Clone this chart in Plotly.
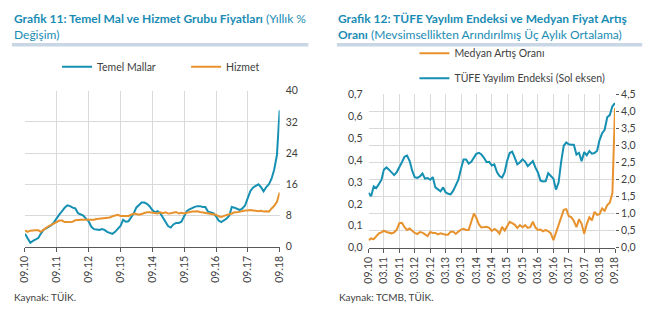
import pandas as pd
import plotly.graph_objects as go

# ---- data -------------------------------------------------------------
months = pd.date_range("2010-09-01", "2018-09-01", freq="MS")

temel_mallar = [
    3.3, 2.0, 1.0, 1.5, 1.9, 2.2, 3.3, 4.3, 4.7, 5.1, 5.5, 6.3,
    7.5, 8.3, 9.1, 10.0, 10.6, 10.4, 10.0, 9.8, 8.6, 8.2, 8.0, 7.2,
    6.5, 5.1, 4.5, 4.4, 4.3, 4.5, 4.3, 3.8, 3.5, 3.3, 3.8, 4.5,
    5.3, 6.9, 6.4, 6.5, 7.5, 8.6, 10.0, 10.8, 11.3, 11.3, 11.0, 10.4,
    9.4, 8.8, 9.1, 8.6, 7.5, 6.3, 5.3, 4.9, 5.7, 6.1, 6.1, 6.4,
    7.8, 9.1, 9.6, 10.0, 10.2, 10.4, 10.4, 10.2, 10.2, 9.0, 8.8, 8.6,
    7.8, 6.7, 6.3, 6.7, 7.2, 8.0, 10.2, 10.0, 9.6, 9.4, 9.8, 10.6,
    12.5, 14.3, 15.2, 15.6, 16.0, 15.2, 14.2, 15.3, 16.0, 17.5, 19.8, 23.5,
    35.0,
]
hizmet = [
    4.2, 3.8, 4.1, 4.2, 4.2, 4.2, 3.8, 4.3, 4.9, 5.3, 5.6, 5.9,
    6.3, 6.7, 6.7, 6.3, 6.3, 6.3, 6.4, 6.8, 6.9, 6.9, 6.9, 6.9,
    7.0, 7.0, 6.9, 7.1, 7.2, 7.2, 7.2, 7.3, 7.5, 7.8, 8.0, 8.2,
    7.9, 7.9, 7.9, 7.9, 8.2, 8.5, 8.4, 8.2, 8.4, 8.7, 8.8, 8.8,
    8.7, 8.6, 8.5, 8.8, 8.6, 8.8, 8.5, 8.6, 8.8, 8.9, 8.5, 8.7,
    8.5, 8.7, 8.8, 9.0, 9.0, 9.1, 8.9, 8.8, 8.7, 8.5, 8.4, 8.3,
    8.2, 7.8, 7.6, 7.9, 8.2, 8.3, 8.5, 8.8, 8.8, 9.0, 9.2, 9.3,
    9.3, 9.4, 9.3, 9.2, 9.1, 9.2, 9.0, 9.1, 9.0, 9.8, 10.5, 11.5,
    13.9,
]

yayilim = [
    0.25, 0.235, 0.28, 0.272, 0.29, 0.31, 0.355, 0.366, 0.356, 0.341, 0.331, 0.345,
    0.365, 0.39, 0.415, 0.42, 0.395, 0.35, 0.322, 0.318, 0.325, 0.338, 0.315, 0.318,
    0.31, 0.322, 0.275, 0.268, 0.257, 0.275, 0.253, 0.246, 0.243, 0.26, 0.282, 0.31,
    0.36, 0.402, 0.402, 0.384, 0.392, 0.408, 0.428, 0.433, 0.425, 0.41, 0.39, 0.392,
    0.375, 0.38, 0.345, 0.327, 0.32, 0.345, 0.395, 0.432, 0.438, 0.41, 0.38, 0.39,
    0.403, 0.393, 0.372, 0.383, 0.395, 0.365, 0.343, 0.306, 0.302, 0.304, 0.34, 0.327,
    0.315, 0.265, 0.297, 0.39, 0.465, 0.48, 0.472, 0.47, 0.47, 0.425, 0.433, 0.395,
    0.436, 0.422, 0.441, 0.429, 0.432, 0.442, 0.49, 0.522, 0.538, 0.595, 0.605, 0.645,
    0.66,
]
medyan = [
    0.22, 0.27, 0.25, 0.35, 0.42, 0.45, 0.50, 0.46, 0.43, 0.42, 0.45, 0.53,
    0.72, 0.73, 0.60, 0.52, 0.56, 0.48, 0.43, 0.40, 0.46, 0.44, 0.40, 0.34,
    0.46, 0.43, 0.43, 0.39, 0.42, 0.39, 0.38, 0.38, 0.47, 0.47, 0.40, 0.47,
    0.53, 0.55, 0.52, 0.52, 0.75, 1.00, 0.88, 0.68, 0.59, 0.61, 0.61, 0.58,
    0.49, 0.55, 0.50, 0.41, 0.61, 0.50, 0.64, 0.76, 0.72, 0.67, 0.58, 0.66,
    0.60, 0.66, 0.58, 0.60, 0.76, 0.59, 0.52, 0.53, 0.48, 0.52, 0.48, 0.42,
    0.22, 0.45, 0.69, 0.92, 1.11, 1.13, 0.93, 0.89, 0.78, 0.60, 0.83, 0.70,
    0.41, 0.69, 0.89, 0.80, 1.05, 0.96, 0.98, 1.15, 1.08, 1.25, 1.32, 1.60,
    4.10,
]

# ---- styling ----------------------------------------------------------
BLUE = "#1590B3"
ORANGE = "#E8922E"
TITLE = "#1A8CB4"
GRID = "#D9D9D9"
TXT = "#404040"
FONT = "Lato"

W, H = 658, 322


def px(x):
    return x / W


def py(y):
    return 1 - y / H


fig = go.Figure()

# left panel
fig.add_trace(go.Scatter(x=months, y=temel_mallar, name="Temel Mallar", mode="lines",
                         line=dict(color=BLUE, width=2), xaxis="x", yaxis="y",
                         legend="legend"))
fig.add_trace(go.Scatter(x=months, y=hizmet, name="Hizmet", mode="lines",
                         line=dict(color=ORANGE, width=2), xaxis="x", yaxis="y",
                         legend="legend"))

# right panel
fig.add_trace(go.Scatter(x=months, y=yayilim, name="TÜFE Yayılım Endeksi (Sol eksen)",
                         mode="lines", line=dict(color=BLUE, width=2),
                         xaxis="x2", yaxis="y2", legend="legend2",
                         legendgroup="b", legendrank=2))
fig.add_trace(go.Scatter(x=months, y=medyan, name="Medyan Artış Oranı",
                         mode="lines", line=dict(color=ORANGE, width=2),
                         xaxis="x2", yaxis="y3", legend="legend2",
                         legendgroup="a", legendrank=1))

tickfont = dict(family=FONT, size=10.5, color=TXT)
x_start, x_end = months[0], months[-1]

fig.update_layout(
    width=W, height=H,
    margin=dict(l=0, r=0, t=0, b=0),
    paper_bgcolor="white", plot_bgcolor="white",
    separators=",.",
    font=dict(family=FONT, size=10, color=TXT),
    xaxis=dict(domain=[px(18.3), px(277.7)], range=[x_start, x_end],
               type="date", tick0="2010-09-01", dtick="M12", tickformat="%m.%y",
               tickangle=-90, showgrid=True, gridcolor=GRID, gridwidth=1,
               showline=True, linecolor="#595959", linewidth=1,
               ticks="outside", ticklen=4, tickcolor="#595959",
               tickfont=tickfont, anchor="y", zeroline=False),
    yaxis=dict(domain=[py(250), py(88)], range=[0, 40], dtick=8, side="right",
               showgrid=True, gridcolor=GRID, gridwidth=1, zeroline=False,
               showline=False, ticks="", tickfont=tickfont, anchor="x",
               ticklabelstandoff=5),
    xaxis2=dict(domain=[px(368.3), px(619.3)], range=[x_start, x_end],
                type="date", tick0="2010-09-01", dtick="M6", tickformat="%m.%y",
                tickangle=-90, showgrid=True, gridcolor=GRID, gridwidth=1,
                showline=True, linecolor="#595959", linewidth=1,
                ticks="outside", ticklen=4, tickcolor="#595959",
                tickfont=tickfont, anchor="y2", zeroline=False),
    yaxis2=dict(domain=[py(251), py(91.7)], range=[0, 0.7], dtick=0.1,
                tickformat=".1f", side="left", showgrid=False, zeroline=False,
                showline=False, ticks="", tickfont=tickfont, anchor="x2",
                ticklabelstandoff=5),
    yaxis3=dict(range=[0, 4.5], dtick=0.5, tickformat=".1f", side="right",
                overlaying="y2", anchor="x2", showgrid=True, gridcolor=GRID,
                gridwidth=1, zeroline=False, showline=False,
                ticks="outside", ticklen=3, tickcolor="#595959",
                tickfont=tickfont),
    legend=dict(orientation="h", x=px(51), y=py(48), xanchor="left", yanchor="top",
                font=dict(family=FONT, size=10.5, color=TXT),
                bgcolor="rgba(0,0,0,0)", entrywidth=84, entrywidthmode="pixels",
                itemwidth=30),
    legend2=dict(orientation="v", x=px(415), y=py(34), xanchor="left", yanchor="top",
                 font=dict(family=FONT, size=10.5, color=TXT),
                 bgcolor="rgba(0,0,0,0)", tracegroupgap=6, itemwidth=30),
    showlegend=True,
)

# header rules under the titles
fig.add_shape(type="rect", xref="paper", yref="paper",
              x0=px(5), x1=px(307), y0=py(42), y1=py(38.5),
              fillcolor="#C9D6E3", line=dict(width=0))
fig.add_shape(type="rect", xref="paper", yref="paper",
              x0=px(336), x1=px(647), y0=py(42), y1=py(38.5),
              fillcolor="#C9D6E3", line=dict(width=0))

title_font = dict(family=FONT, size=12, color=TITLE)


def text(x, y, s, font, anchor="left"):
    fig.add_annotation(x=px(x), y=py(y), xref="paper", yref="paper", text=s,
                       showarrow=False, xanchor=anchor, yanchor="middle",
                       font=font, align="left")


text(5, 13, "<b>Grafik 11: Temel Mal ve Hizmet Grubu Fiyatları</b> (Yıllık %", title_font)
text(5, 30, "Değişim)", title_font)
text(335, 13, "<b>Grafik 12: TÜFE Yayılım Endeksi ve Medyan Fiyat Artış</b>", title_font)
text(335, 30, "<b>Oranı</b> (Mevsimsellikten Arındırılmış Üç Aylık Ortalama)", title_font)

foot_font = dict(family=FONT, size=10, color=TXT)
text(5, 302, "Kaynak: TÜİK.", foot_font)
text(336, 302, "Kaynak: TCMB, TÜİK.", foot_font)

fig.write_html("out.html")
